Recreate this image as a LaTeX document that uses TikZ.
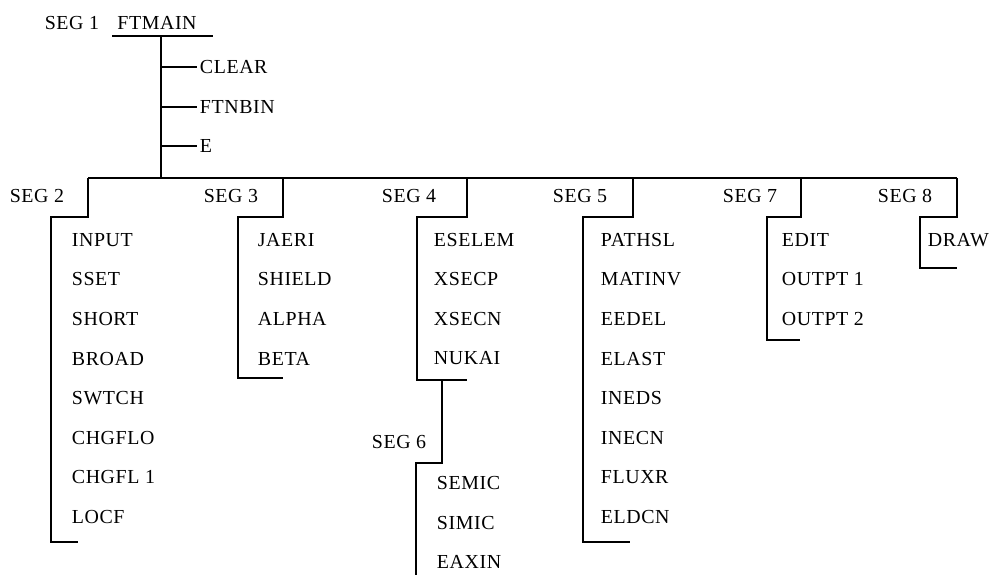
\documentclass[tikz,border=0pt]{standalone}
\usepackage{fontspec}
\setmainfont[LetterSpace=3]{Liberation Serif}
\usetikzlibrary{positioning}

\begin{document}
\begin{tikzpicture}[x=0.0265cm, y=-0.0265cm, node distance=1.047cm]
  \tikzstyle{seg}=[inner sep=0pt, font=\fontsize{15}{17}\selectfont]
  \tikzstyle{item}=[anchor=west, inner sep=2pt, font=\fontsize{15}{17}\selectfont]
  \tikzstyle{next}=[below=of #1.west, anchor=west]
  \tikzstyle{link}=[line width=1.2pt]
  \useasboundingbox (0,0) rectangle (994,575);

  % main program and its own routines
  \node[seg] (seg1) at (72,23) {SEG 1};
  \node[seg] (ftmain) at (157,23) {FTMAIN};
  \coordinate (ul) at (112,36);
  \coordinate (ur) at (213,36);
  \coordinate (trunk) at (161,36);
  \draw[link] (ul) -- (ur);
  \node[item] (clear) at (197,67) {CLEAR};
  \node[item] (ftnbin) at (197,107) {FTNBIN};
  \node[item] (e) at (197,146) {E};

  % overlay bus
  \coordinate (bus2) at (88,178);
  \coordinate (bus3) at (283,178);
  \coordinate (bus4) at (467,178);
  \coordinate (bus5) at (633,178);
  \coordinate (bus7) at (801,178);
  \coordinate (bus8) at (957,178);
  \draw[link] (trunk) -- (trunk |- bus2);
  \draw[link] (trunk |- clear.west) -- (clear.west);
  \draw[link] (trunk |- ftnbin.west) -- (ftnbin.west);
  \draw[link] (trunk |- e.west) -- (e.west);
  \draw[link] (bus2) -- (bus8);

  % SEG 2
  \node[seg] (seg2) at (37,196) {SEG 2};
  \coordinate (c2) at (51,217);
  \draw[link] (bus2) |- (c2) -- ++(0,325) -- ++(27,0);
  \node[item] (input) at (69,240) {INPUT};
  \node[item, next=input] (sset) {SSET};
  \node[item, next=sset] (short) {SHORT};
  \node[item, next=short] (broad) {BROAD};
  \node[item, next=broad] (swtch) {SWTCH};
  \node[item, next=swtch] (chgflo) {CHGFLO};
  \node[item, next=chgflo] (chgfl1) {CHGFL 1};
  \node[item, next=chgfl1] (locf) {LOCF};

  % SEG 3
  \node[seg] (seg3) at (231,196) {SEG 3};
  \coordinate (c3) at (238,217);
  \draw[link] (bus3) |- (c3) -- ++(0,161) -- ++(45,0);
  \node[item] (jaeri) at (255,240) {JAERI};
  \node[item, next=jaeri] (shield) {SHIELD};
  \node[item, next=shield] (alpha) {ALPHA};
  \node[item, next=alpha] (beta) {BETA};

  % SEG 4
  \node[seg] (seg4) at (409,196) {SEG 4};
  \coordinate (c4) at (417,217);
  \draw[link] (bus4) |- (c4) -- ++(0,163) -- ++(50,0);
  \node[item] (eselem) at (431,240) {ESELEM};
  \node[item, next=eselem] (xsecp) {XSECP};
  \node[item, next=xsecp] (xsecn) {XSECN};
  \node[item, next=xsecn] (nukai) {NUKAI};

  % SEG 6 hangs below SEG 4
  \node[seg] (seg6) at (399,442) {SEG 6};
  \coordinate (tap6) at (442,380);
  \coordinate (c6) at (416,463);
  \draw[link] (tap6) |- (c6) -- ++(0,112);
  \node[item] (semic) at (434,483) {SEMIC};
  \node[item, next=semic] (simic) {SIMIC};
  \node[item, next=simic] (eaxin) {EAXIN};

  % SEG 5
  \node[seg] (seg5) at (580,196) {SEG 5};
  \coordinate (c5) at (583,217);
  \draw[link] (bus5) |- (c5) -- ++(0,325) -- ++(47,0);
  \node[item] (pathsl) at (598,240) {PATHSL};
  \node[item, next=pathsl] (matinv) {MATINV};
  \node[item, next=matinv] (eedel) {EEDEL};
  \node[item, next=eedel] (elast) {ELAST};
  \node[item, next=elast] (ineds) {INEDS};
  \node[item, next=ineds] (inecn) {INECN};
  \node[item, next=inecn] (fluxr) {FLUXR};
  \node[item, next=fluxr] (eldcn) {ELDCN};

  % SEG 7
  \node[seg] (seg7) at (750,196) {SEG 7};
  \coordinate (c7) at (767,217);
  \draw[link] (bus7) |- (c7) -- ++(0,123) -- ++(33,0);
  \node[item] (edit) at (779,240) {EDIT};
  \node[item, next=edit] (outpt1) {OUTPT 1};
  \node[item, next=outpt1] (outpt2) {OUTPT 2};

  % SEG 8
  \node[seg] (seg8) at (905,196) {SEG 8};
  \coordinate (c8) at (920,217);
  \draw[link] (bus8) |- (c8) -- ++(0,51) -- ++(37,0);
  \node[item] (draw) at (925,240) {DRAW};
\end{tikzpicture}
\end{document}
